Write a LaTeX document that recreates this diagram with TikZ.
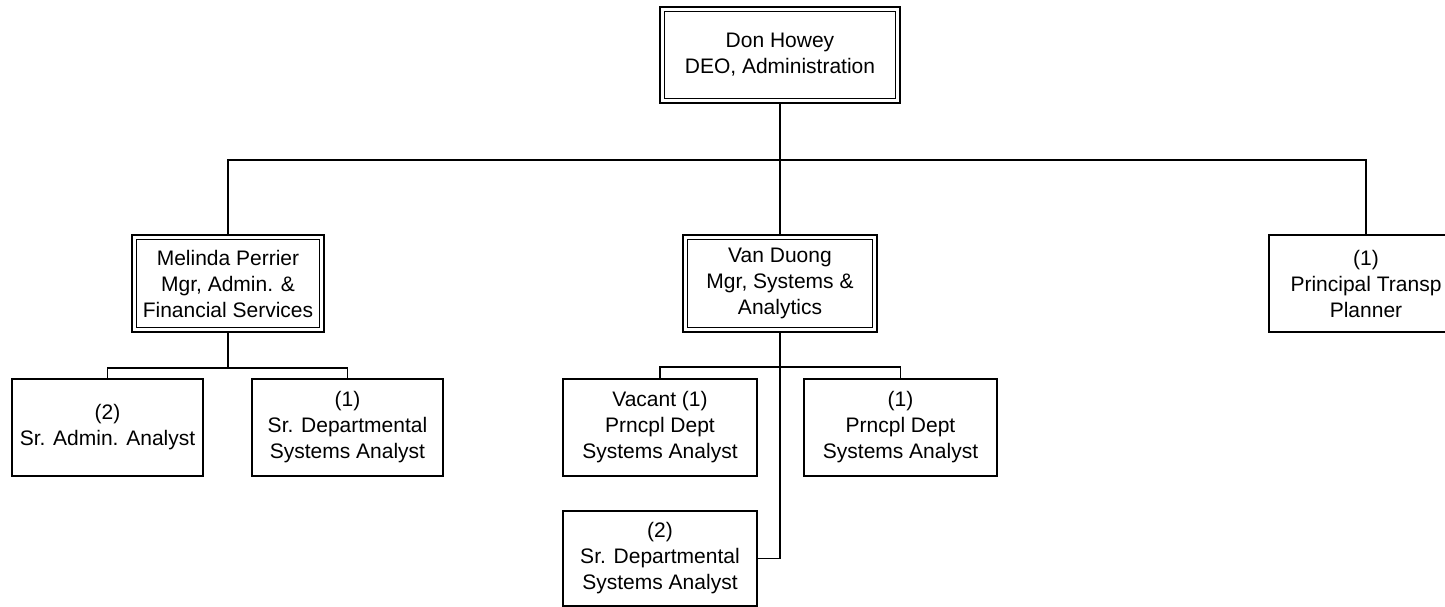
\documentclass[tikz,border=0pt]{standalone}
\usepackage{fontspec}
\setmainfont{Liberation Sans}
\usetikzlibrary{calc}

\begin{document}
\begin{tikzpicture}[x=1pt,y=-1pt]
	\tikzstyle{every node}+=[font=\fontsize{21}{26}\selectfont, align=center, inner sep=0pt, outer sep=0pt]
	\tikzstyle{posbox}=[draw=black, line width=1.8pt, rectangle, minimum width=193pt, minimum height=97pt]
	\tikzstyle{link}=[black, line width=1.8pt]
	\useasboundingbox (0,0) rectangle (1445,607);
	\node [posbox, minimum width=240pt, minimum height=96pt] (howey) at (780,55) {Don Howey\\DEO, Administration};
	\node [posbox, minimum width=192pt] (perrier) at (228,283.5) {Melinda Perrier\\Mgr, Admin. \&\\Financial Services};
	\node [posbox, minimum width=194pt] (duong) at (780,283.5) {Van Duong\\Mgr, Systems \&\\Analytics};
	\node [posbox, minimum width=194pt] (transp) at (1366,283.5) {(1)\\Principal Transp\\Planner};
	\node [posbox, minimum width=191pt] (admin) at (107.5,427.5) {(2)\\Sr. Admin. Analyst};
	\node [posbox, minimum width=191pt] (srdept1) at (347.5,427.5) {(1)\\Sr. Departmental\\Systems Analyst};
	\node [posbox, minimum width=194pt] (vacant) at (660,427.5) {Vacant (1)\\Prncpl Dept\\Systems Analyst};
	\node [posbox] (prncpl) at (900.5,427.5) {(1)\\Prncpl Dept\\Systems Analyst};
	\node [posbox, minimum width=194pt, minimum height=95pt] (srdept2) at (660,558.5) {(2)\\Sr. Departmental\\Systems Analyst};
	\foreach \n in {howey,perrier,duong}
		\draw [black, line width=1.2pt] ($(\n.north west)+(4.5,4.5)$) rectangle ($(\n.south east)+(-4.5,-4.5)$);
	\draw [link] (howey.south) -- (duong.north);
	\draw [link] (perrier.north) -- ++(0,-75) -| (transp.north);
	\draw [link] (perrier.south) -- ++(0,36) coordinate (pbus);
	\draw [link] (admin.north) |- (pbus) -| (srdept1.north);
	\draw [link] (vacant.north) -- ++(0,-12) -| (prncpl.north);
	\draw [link] (duong.south) |- (srdept2.east);
\end{tikzpicture}
\end{document}
